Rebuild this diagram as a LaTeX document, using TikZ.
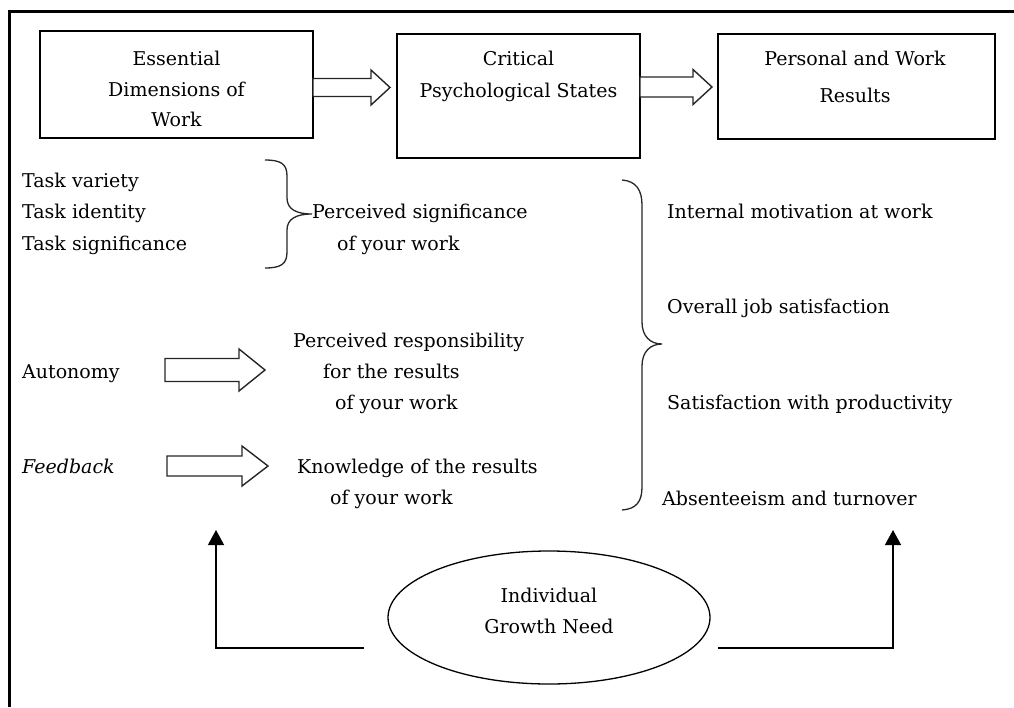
\documentclass[tikz,border=0pt]{standalone}
\usepackage{fontspec}
\setmainfont{DejaVu Serif}
\usetikzlibrary{arrows.meta,shapes.geometric}
\newcommand\myblockarrow[6]{% tail x, head base x, tip x, centre y, half shaft, half head
  \draw[blk] (#1,#4-#5) -- (#2,#4-#5) -- (#2,#4-#6) -- (#3,#4) -- (#2,#4+#6) -- (#2,#4+#5) -- (#1,#4+#5) -- cycle;}
\begin{document}
\begin{tikzpicture}[x=1pt,y=-1pt,
  txt/.style={inner sep=0pt, anchor=base west, font=\fontsize{19}{19}\selectfont},
  ctxt/.style={inner sep=0pt, anchor=base, font=\fontsize{19}{19}\selectfont},
  box/.style={draw, line width=1.4pt, inner sep=0pt},
  blk/.style={draw=black!85, fill=white, line width=1.4pt, line join=miter},
  bracepath/.style={draw=black!85, line width=1.3pt},
  conn/.style={line width=1.3pt, -{Triangle[width=16pt,length=15pt]}},
]
\useasboundingbox (0,0) rectangle (1014,707);
% outer frame
\draw[line width=2.5pt] (9.7,707) -- (9.7,11.5) -- (1014,11.5);

% top boxes
\node[box, minimum width=273pt, minimum height=107pt] (b1) at (176.5,84.5) {};
\node[box, minimum width=243pt, minimum height=124pt] (b2) at (518.5,96) {};
\node[box, minimum width=277pt, minimum height=105pt] (b3) at (856.5,86.5) {};
\node[ctxt] (b1a) at (176.5,65) {Essential};
\node[ctxt] (b1b) at (176.5,96.5) {Dimensions of};
\node[ctxt] (b1c) at (176.5,126) {Work};
\node[ctxt] (b2a) at (518.5,65) {Critical};
\node[ctxt] (b2b) at (518.5,97.5) {Psychological States};
\node[ctxt] (b3a) at (855,65) {Personal and Work};
\node[ctxt] (b3b) at (855,102) {Results};

% block arrows between boxes
\myblockarrow{313}{371}{390}{87.5}{9}{17.5}
\myblockarrow{640}{693}{712}{87}{10}{17.5}

% left column
\node[txt] (tv) at (22,187) {Task variety};
\node[txt] (ti) at (22,218.5) {Task identity};
\node[txt] (ts) at (22,250) {Task significance};
\draw[bracepath] (265,160) .. controls (281,160) and (287,164) .. (287,176) -- (287,198)
  .. controls (287,209) and (296,214) .. (312,214)
  .. controls (296,214) and (287,219) .. (287,230) -- (287,252)
  .. controls (287,264) and (281,268) .. (265,268);
\node[txt] (ps1) at (312,218.5) {Perceived significance};
\node[txt] (ps2) at (337,250) {of your work};

\node[txt] (au) at (22,378.5) {Autonomy};
\myblockarrow{165}{239}{265}{370}{11.5}{21}
\node[txt] (pr1) at (293,347) {Perceived responsibility};
\node[txt] (pr2) at (323,378.5) {for the results};
\node[txt] (pr3) at (335,409.5) {of your work};

\node[txt] (fb) at (22,473.5) {\itshape Feedback};
\myblockarrow{167}{242}{268}{466}{10}{20}
\node[txt] (kn1) at (297,473.5) {Knowledge of the results};
\node[txt] (kn2) at (330,504.5) {of your work};

% right brace and outcomes
\draw[bracepath] (622,180) .. controls (636,181) and (642,190) .. (642,205) -- (642,322)
  .. controls (642,336) and (650,344) .. (662,344)
  .. controls (650,344) and (642,352) .. (642,366) -- (642,487)
  .. controls (642,502) and (636,509) .. (622,510);
\node[txt] (o1) at (667,218.5) {Internal motivation at work};
\node[txt] (o2) at (667,313.5) {Overall job satisfaction};
\node[txt] (o3) at (667,409.5) {Satisfaction with productivity};
\node[txt] (o4) at (662,505) {Absenteeism and turnover};

% growth need
\node[draw, ellipse, line width=1.3pt, minimum width=322pt, minimum height=133pt, inner sep=0pt] (ell) at (549,617.5) {};
\node[ctxt] (e1) at (549,602.5) {Individual};
\node[ctxt] (e2) at (549,633.5) {Growth Need};
\coordinate (lc) at (364,648);
\coordinate (la) at (216,530);
\coordinate (rc) at (718,648);
\coordinate (ra) at (893,530);
\draw[conn] (lc) -| (la);
\draw[conn] (rc) -| (ra);
\end{tikzpicture}
\end{document}
